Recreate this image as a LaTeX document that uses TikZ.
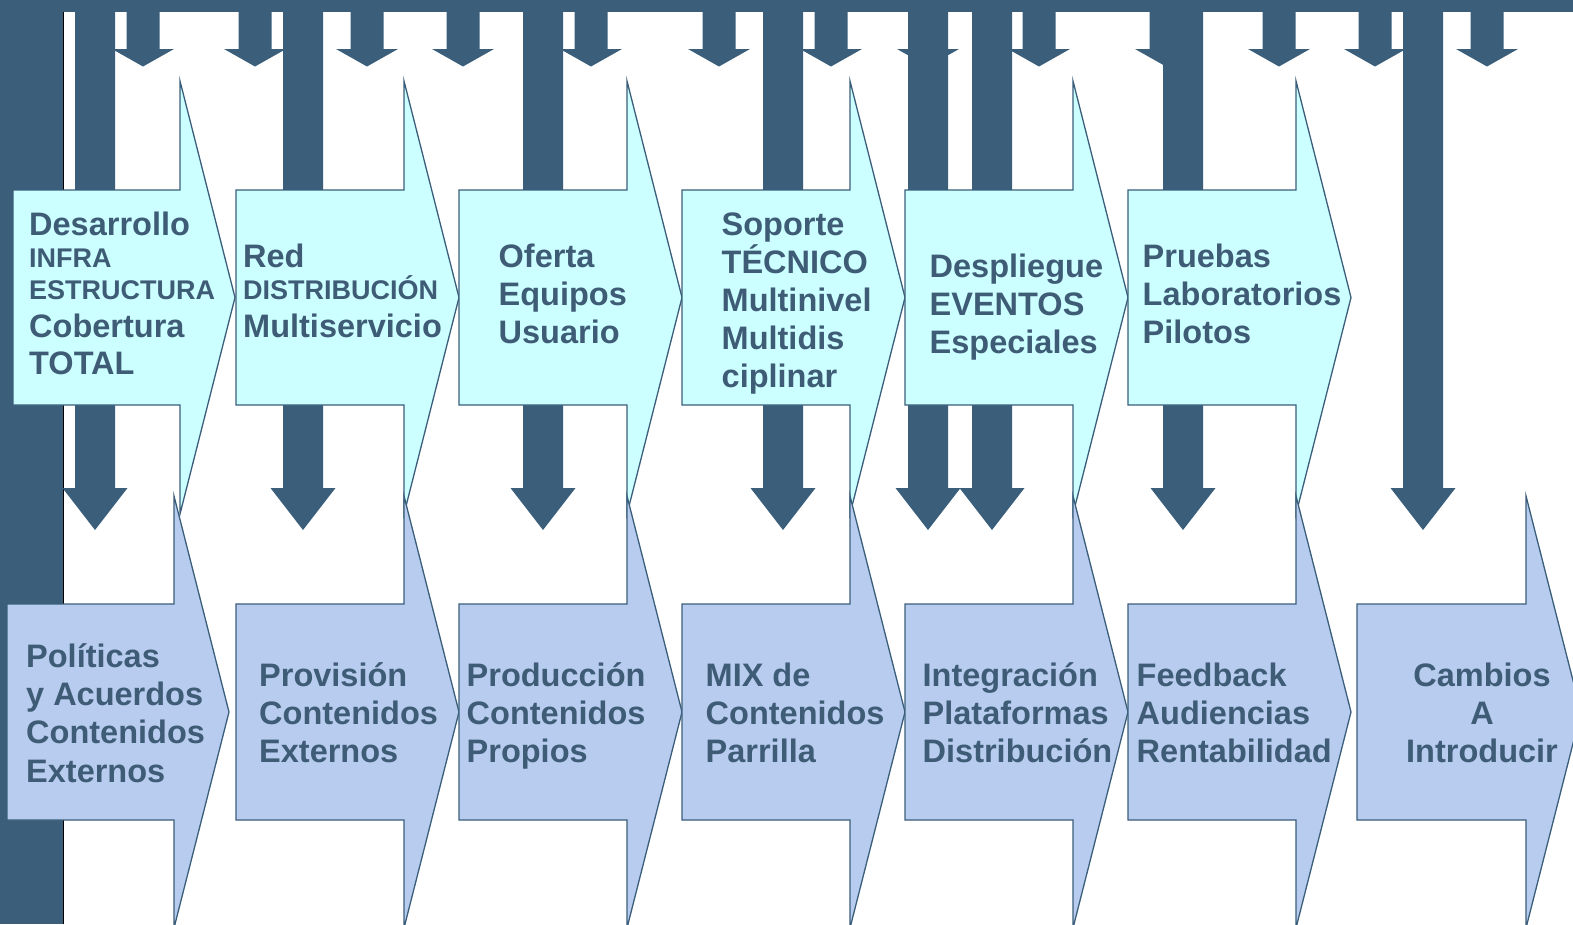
\documentclass[tikz,border=0pt]{standalone}
\usepackage{fontspec}
\setmainfont{Liberation Sans}
\definecolor{slate}{RGB}{59,94,122}
\definecolor{txtc}{RGB}{62,92,118}
\definecolor{cyanfill}{RGB}{204,255,255}
\definecolor{bluefill}{RGB}{184,204,240}
\newcommand\sm{\fontsize{27}{30}\selectfont}
\begin{document}
\begin{tikzpicture}[x=1pt,y=-1pt,
  lbl/.style={text=txtc, font=\bfseries\fontsize{32.5}{38}\selectfont, inner sep=0pt, anchor=base west},
  lblc/.style={lbl, anchor=base},
  upper/.style={fill=cyanfill, draw=slate, line width=1.3pt, line join=miter},
  lower/.style={fill=bluefill, draw=slate, line width=1.3pt, line join=miter}]
\useasboundingbox (0,0) rectangle (1573,924);
\clip (0,0) rectangle (1573,924);
\fill[white] (0,0) rectangle (1573,924);

% frame: left band, top band and the shadow line
\fill[slate] (0,0) rectangle (62.5,924);
\fill[slate] (0,0) rectangle (1573,12.3);
\draw[black, line width=1.5pt] (63.5,12.3) -- (63.5,924);

% short arrows hanging from the top band
\foreach \c in {143,255,367,463,591,719,831,928,1039,1166,1279,1375,1487}
  \fill[slate] (\c-16.5,6) -- (\c+16.5,6) -- (\c+16.5,49) -- (\c+31,49)
    -- (\c,66.5) -- (\c-31,49) -- (\c-16.5,49) -- cycle;

% long arrows reaching the lower row
\foreach \c in {95,303,543,783,928,992,1183,1423}
  \fill[slate] (\c-20,6) -- (\c+20,6) -- (\c+20,488) -- (\c+32.5,488)
    -- (\c,530) -- (\c-32.5,488) -- (\c-20,488) -- cycle;

% upper row of chevrons
\foreach \L/\R in {13/180,236/404,459/627,682/850,905/1073,1128/1296}
  \filldraw[upper] (\L,190) -- (\R,190) -- (\R,81) -- (\R+55,297.5)
    -- (\R,514) -- (\R,405) -- (\L,405) -- cycle;

% lower row of chevrons
\foreach \L/\R in {7/174,236/404,459/627,682/850,905/1073,1128/1296,1357/1526}
  \filldraw[lower] (\L,604) -- (\R,604) -- (\R,496) -- (\R+55,712)
    -- (\R,928) -- (\R,820) -- (\L,820) -- cycle;

% upper row labels
\foreach \n/\y/\t in {1/235/Desarrollo,2/267/{\sm INFRA},3/299/{\sm ESTRUCTURA},4/337/Cobertura,5/374/TOTAL}
  \node[lbl] (ua\n) at (29,\y) {\t};
\foreach \n/\y/\t in {1/267/Red,2/299/{\sm DISTRIBUCIÓN},3/337/Multiservicio}
  \node[lbl] (ub\n) at (243,\y) {\t};
\foreach \n/\y/\t in {1/267/Oferta,2/305/Equipos,3/343/Usuario}
  \node[lbl] (uc\n) at (498.5,\y) {\t};
\foreach \n/\y/\t in {1/235/Soporte,2/273/TÉCNICO,3/311/Multinivel,4/349/Multidis,5/387/ciplinar}
  \node[lbl] (ud\n) at (721.5,\y) {\t};
\foreach \n/\y/\t in {1/277/Despliegue,2/315/EVENTOS,3/353/Especiales}
  \node[lbl] (ue\n) at (929.5,\y) {\t};
\foreach \n/\y/\t in {1/267/Pruebas,2/305/Laboratorios,3/343/Pilotos}
  \node[lbl] (uf\n) at (1142.5,\y) {\t};

% lower row labels
\foreach \n/\y/\t in {1/667/Políticas,2/705/y Acuerdos,3/743/Contenidos,4/782/Externos}
  \node[lbl] (la\n) at (26,\y) {\t};
\foreach \n/\y/\t in {1/686/Provisión,2/724/Contenidos,3/762/Externos}
  \node[lbl] (lb\n) at (259,\y) {\t};
\foreach \n/\y/\t in {1/686/Producción,2/724/Contenidos,3/762/Propios}
  \node[lbl] (lc\n) at (466.5,\y) {\t};
\foreach \n/\y/\t in {1/686/MIX de,2/724/Contenidos,3/762/Parrilla}
  \node[lbl] (ld\n) at (705.5,\y) {\t};
\foreach \n/\y/\t in {1/686/Integración,2/724/Plataformas,3/762/Distribución}
  \node[lbl] (le\n) at (922.5,\y) {\t};
\foreach \n/\y/\t in {1/686/Feedback,2/724/Audiencias,3/762/Rentabilidad}
  \node[lbl] (lf\n) at (1136.5,\y) {\t};
\foreach \n/\y/\t in {1/686/Cambios,2/724/A,3/762/Introducir}
  \node[lblc] (lg\n) at (1482,\y) {\t};
\end{tikzpicture}
\end{document}
